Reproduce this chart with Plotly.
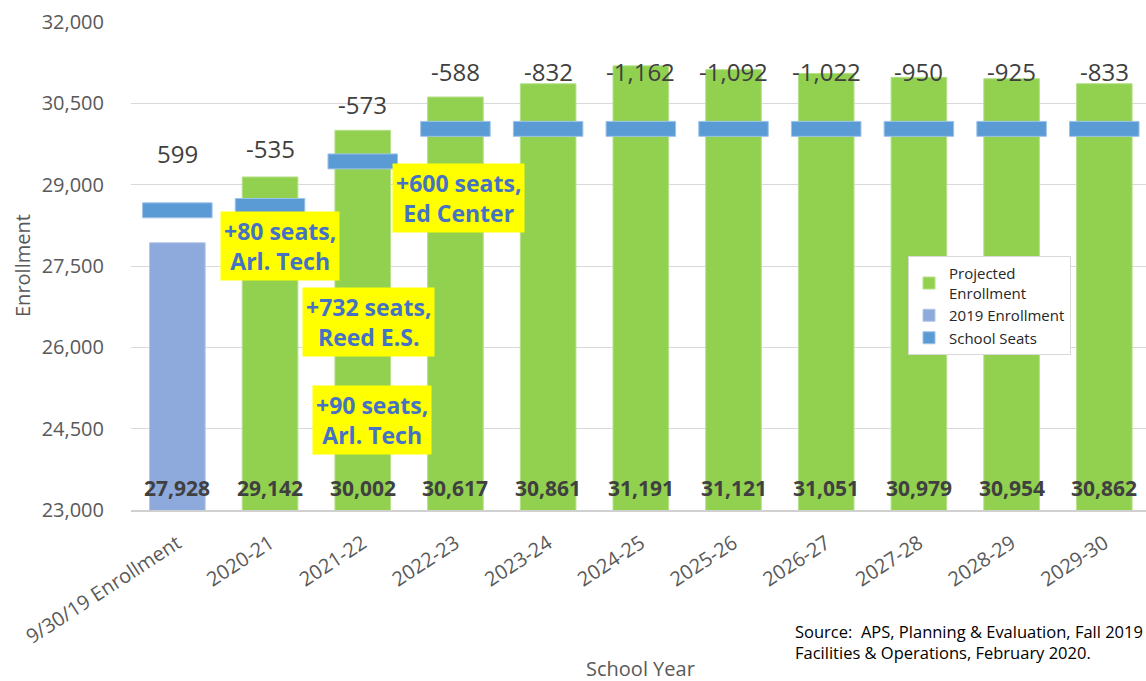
import plotly.graph_objects as go

categories = ["9/30/19 Enrollment", "2020-21", "2021-22", "2022-23", "2023-24", "2024-25",
              "2025-26", "2026-27", "2027-28", "2028-29", "2029-30"]
enroll_2019 = [27928]
projected = [29142, 30002, 30617, 30861, 31191, 31121, 31051, 30979, 30954, 30862]
seats = [28527, 28607, 29429, 30029, 30029, 30029, 30029, 30029, 30029, 30029, 30029]
gap_labels = ["599", "-535", "-573", "-588", "-832", "-1,162", "-1,092", "-1,022", "-950", "-925", "-833"]
all_values = enroll_2019 + projected
y_ticks = [23000, 24500, 26000, 27500, 29000, 30500, 32000]

notes = [
    ("+80 seats,<br>Arl. Tech", 1.11, 27869),
    ("+732 seats,<br>Reed E.S.", 2.06, 26467),
    ("+90 seats,<br>Arl. Tech", 2.10, 24660),
    ("+600 seats,<br>Ed Center", 3.03, 28754),
]

SEAT_THICK = 276
FONT = "Open Sans"
GRAY = "#595959"
DARK = "#404040"

fig = go.Figure()
fig.add_trace(go.Bar(
    x=categories[1:], y=projected, name="Projected<br>Enrollment",
    marker=dict(color="#92D050", line=dict(color="#B5E08A", width=1)), width=0.6,
))
fig.add_trace(go.Bar(
    x=categories[:1], y=enroll_2019, name="2019 Enrollment",
    marker=dict(color="#8EA9DB", line=dict(color="#B4C6E7", width=1)), width=0.6,
))
fig.add_trace(go.Bar(
    x=categories, y=[SEAT_THICK] * len(seats), base=[s - SEAT_THICK / 2 for s in seats],
    name="School Seats",
    marker=dict(color="#5B9BD5", line=dict(color="#9DC3E6", width=1)), width=0.75,
))

annotations = []
for i, (c, v) in enumerate(zip(categories, all_values)):
    annotations.append(dict(x=c, y=23000, xref="x", yref="y", text=f"<b>{v:,}</b>",
                            showarrow=False, yanchor="middle", yshift=22,
                            font=dict(family=FONT, size=21, color=DARK)))
for c, s, g in zip(categories, seats, gap_labels):
    annotations.append(dict(x=c, y=s, xref="x", yref="y", text=g, showarrow=False,
                            yanchor="middle", yshift=57,
                            font=dict(family=FONT, size=24, color=DARK)))
for t, xi, yv in notes:
    annotations.append(dict(x=xi, y=yv, xref="x", yref="y", text=f"<b>{t}</b>",
                            showarrow=False, bgcolor="#FFFF00", borderpad=3,
                            font=dict(family=FONT, size=23, color="#4472C4")))
annotations.append(dict(x=(793 - 131) / 1015, y=(510 - 642) / 488, xref="paper", yref="paper",
                        xanchor="left", yanchor="middle", align="left", showarrow=False,
                        text="Source:  APS, Planning & Evaluation, Fall 2019<br>Facilities & Operations, February 2020.",
                        font=dict(family=FONT, size=16.5, color="#000000")))
annotations.append(dict(x=(640 - 131) / 1015, y=(510 - 668) / 488, xref="paper", yref="paper",
                        xanchor="center", yanchor="middle", showarrow=False, text="School Year",
                        font=dict(family=FONT, size=20, color=GRAY)))
annotations.append(dict(x=(22 - 131) / 1015, y=(510 - 266) / 488, xref="paper", yref="paper",
                        xanchor="center", yanchor="middle", showarrow=False, text="Enrollment",
                        textangle=-90, font=dict(family=FONT, size=20, color=GRAY)))

fig.update_layout(
    width=1146, height=681,
    margin=dict(l=131, r=0, t=22, b=171),
    paper_bgcolor="white", plot_bgcolor="white",
    barmode="overlay",
    font=dict(family=FONT, color=GRAY),
    showlegend=True,
    legend=dict(x=(908 - 131) / 1015, y=(510 - 256) / 488, xanchor="left", yanchor="top",
                bgcolor="white", bordercolor="#D9D9D9", borderwidth=1,
                font=dict(family=FONT, size=15, color="#262626"), traceorder="normal"),
    annotations=annotations,
    xaxis=dict(type="category", categoryorder="array", categoryarray=categories,
               range=[-0.5, 10.45], tickangle=-33, showgrid=False,
               showline=True, linecolor="#D0D0D0", linewidth=2,
               tickfont=dict(family=FONT, size=20, color=GRAY), ticks="outside",
               ticklen=12, tickcolor="white"),
    yaxis=dict(range=[23000, 32000], tickvals=y_ticks, tickformat=",",
               showgrid=True, gridcolor="#D9D9D9", gridwidth=1, zeroline=False,
               ticks="outside", ticklen=22, tickcolor="white",
               tickfont=dict(family=FONT, size=20, color=GRAY)),
)

fig.write_html("out.html", config={"displayModeBar": False},
               post_script="document.body.style.margin='0';document.body.style.overflow='hidden';")
